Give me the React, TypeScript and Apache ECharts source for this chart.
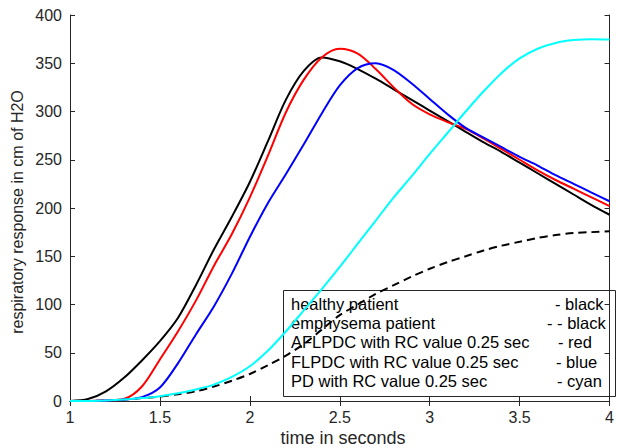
import React, { useEffect, useRef } from "react";
import * as echarts from "echarts";

const timeSec = [1.0, 1.1, 1.2, 1.3, 1.4, 1.5, 1.6, 1.7, 1.8, 1.9, 2.0, 2.1, 2.2, 2.3, 2.4, 2.5, 2.6, 2.7, 2.8, 2.9, 3.0, 3.1, 3.2, 3.3, 3.4, 3.5, 3.6, 3.7, 3.8, 3.9, 4.0];

const healthy = [0, 2, 10, 24, 42, 62, 86, 120, 157, 191, 227, 269, 312, 342, 356, 352, 344, 334, 323, 312, 301, 290, 279, 268, 258, 247, 236, 225, 214, 203, 193];
const emphysema = [0, 0, 0.5, 1.5, 3, 4.5, 7, 10, 15, 21, 28, 37, 47, 59, 74, 89, 100, 111, 120, 129, 137, 144, 150, 156, 161, 165, 169, 172, 174, 175, 176];
const aflpdc = [0, 0, 0.5, 2, 15, 43, 72, 104, 140, 173, 211, 254, 299, 333, 356, 365, 360, 344, 325, 308, 297, 289, 282, 272, 261, 250, 239, 229, 220, 211, 202];
const flpdc = [0, 0, 0.5, 1.5, 4, 14, 39, 69, 98, 132, 170, 205, 235, 266, 298, 327, 345, 350, 343, 329, 313, 297, 283, 273, 263, 253, 244, 234, 225, 216, 207];
const pd = [0, 0, 0.5, 1.5, 3, 5, 8, 12, 17, 25, 36, 52, 72, 94, 116, 139, 163, 187, 211, 233, 256, 278, 300, 321, 340, 355, 365, 371, 374, 375, 374.5];

const legendLeft = [
  "healthy patient",
  "emphysema patient",
  "AFLPDC with RC value 0.25 sec",
  "FLPDC with RC value 0.25 sec",
  "PD with RC value 0.25 sec",
];
const legendRight = ["- black", "- - black", "- red", "- blue", "- cyan"];
const legendRightX = [555, 547, 558, 556, 557];

const xName = "time in seconds";
const yName = "respiratory response in cm of H2O";

const FONT = "Arial, 'Liberation Sans', sans-serif";
const AX = "#262626";

function pairs(vals: number[]) {
  return timeSec.map((t, i) => [t, vals[i]]);
}

export default function App() {
  const ref = useRef<HTMLDivElement>(null);
  useEffect(() => {
    if (!ref.current) return;
    const chart = echarts.init(ref.current, undefined, { renderer: "svg" });
    const axisCommon = {
      axisLine: { show: true, lineStyle: { color: AX, width: 1 } },
      axisTick: { show: true, inside: true, length: 5, lineStyle: { color: AX } },
      splitLine: { show: false },
    };
    const lineSeries = (name: string, vals: number[], color: string, dashed = false) => ({
      name,
      type: "line",
      data: pairs(vals),
      xAxisIndex: 0,
      yAxisIndex: 0,
      showSymbol: false,
      symbol: "none",
      smooth: 0.3,
      lineStyle: { color, width: 2, type: dashed ? [8, 5] : "solid" },
      z: 3,
    });
    const graphics: any[] = [
      {
        type: "rect",
        shape: { x: 283.5, y: 290.5, width: 332, height: 106 },
        style: { fill: "transparent", stroke: AX, lineWidth: 1 },
        z: 1,
      },
      {
        type: "text",
        x: 343,
        y: 438,
        style: { text: xName, font: `18px ${FONT}`, fill: AX, textAlign: "center", textVerticalAlign: "middle" },
      },
      {
        type: "text",
        x: 17,
        y: 212,
        rotation: Math.PI / 2,
        style: { text: yName, font: `16px ${FONT}`, fill: AX, textAlign: "center", textVerticalAlign: "middle" },
      },
    ];
    legendLeft.forEach((s, i) => {
      graphics.push({
        type: "text",
        x: 291,
        y: 304 + i * 19.2,
        style: { text: s, font: `16.5px ${FONT}`, fill: "#000", textAlign: "left", textVerticalAlign: "middle" },
        z: 1,
      });
      graphics.push({
        type: "text",
        x: legendRightX[i],
        y: 304 + i * 19.2,
        style: { text: legendRight[i], font: `16.5px ${FONT}`, fill: "#000", textAlign: "left", textVerticalAlign: "middle" },
        z: 1,
      });
    });
    chart.setOption({
      animation: false,
      backgroundColor: "#fff",
      grid: { left: 70, right: 1, top: 15, bottom: 47, containLabel: false },
      xAxis: [
        {
          type: "value",
          min: 1,
          max: 4,
          interval: 0.5,
          position: "bottom",
          ...axisCommon,
          axisLabel: { color: AX, fontSize: 16, fontFamily: FONT, margin: 8 },
        },
        {
          type: "value",
          min: 1,
          max: 4,
          interval: 0.5,
          position: "top",
          ...axisCommon,
          axisLabel: { show: false },
        },
      ],
      yAxis: [
        {
          type: "value",
          min: 0,
          max: 400,
          interval: 50,
          position: "left",
          ...axisCommon,
          axisLabel: { color: AX, fontSize: 16, fontFamily: FONT, margin: 8 },
        },
        {
          type: "value",
          min: 0,
          max: 400,
          interval: 50,
          position: "right",
          ...axisCommon,
          axisLabel: { show: false },
        },
      ],
      graphic: graphics,
      series: [
        lineSeries("healthy patient", healthy, "#000000"),
        lineSeries("emphysema patient", emphysema, "#000000", true),
        lineSeries("AFLPDC", aflpdc, "#ff0000"),
        lineSeries("FLPDC", flpdc, "#0000ff"),
        lineSeries("PD", pd, "#00ffff"),
      ],
    });
    return () => chart.dispose();
  }, []);
  return <div ref={ref} style={{ width: 617, height: 448, position: "absolute", left: 0, top: 0 }} />;
}
